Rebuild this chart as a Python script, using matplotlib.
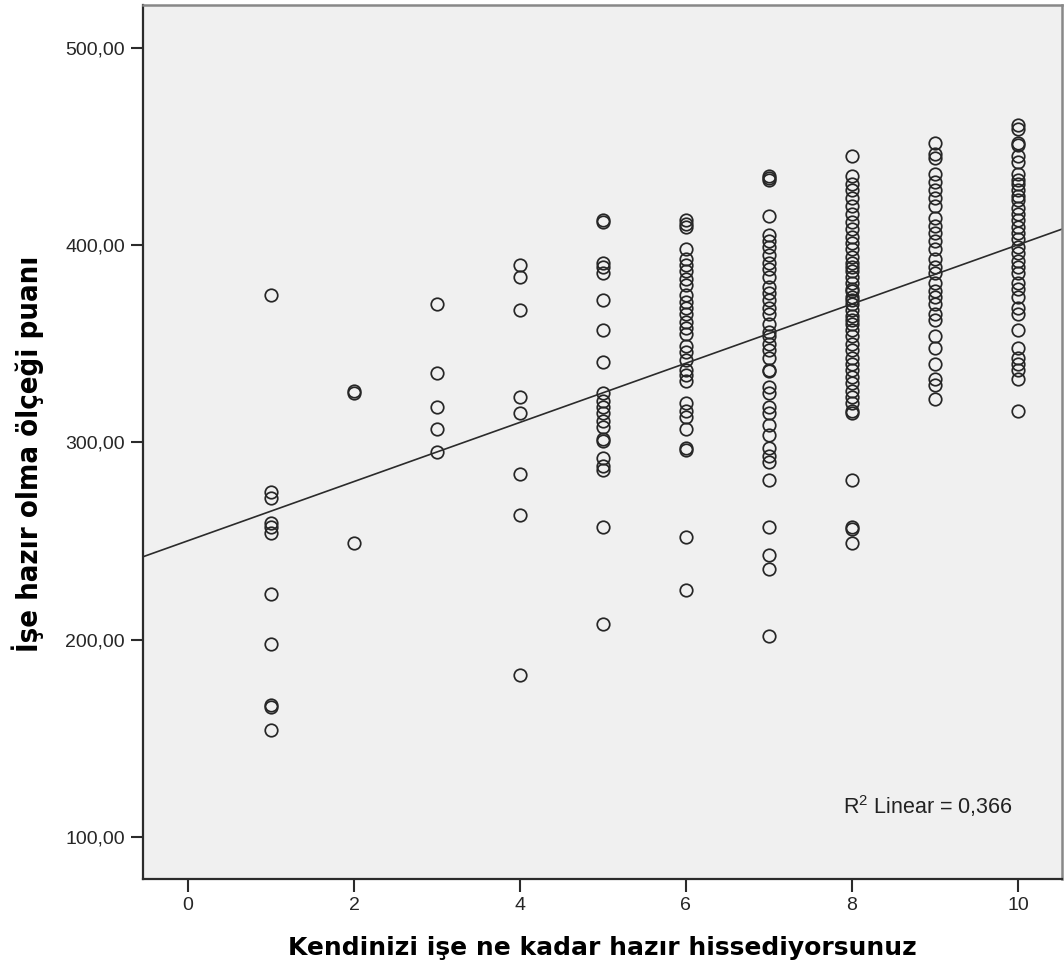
import matplotlib
matplotlib.use('Agg')
import matplotlib.pyplot as plt
import numpy as np

# scores, one list per answer (1..10)
score1 = [375, 275, 272, 259, 257, 254, 223, 198, 167, 166, 154]
score2 = [326, 325, 249]
score3 = [370, 335, 318, 307, 295]
score4 = [390, 384, 367, 323, 315, 284, 263, 182]
score5 = [413, 412, 391, 389, 386, 372, 357, 341, 325, 321, 318, 315, 311, 308,
          302, 301, 292, 288, 286, 257, 208]
score6 = [413, 411, 409, 398, 393, 390, 387, 383, 380, 375, 371, 368, 365, 361,
          358, 355, 349, 346, 342, 337, 334, 331, 320, 316, 313, 307, 297, 296,
          252, 225]
score7 = [435, 434, 433, 415, 405, 402, 399, 395, 391, 388, 384, 379, 376, 372,
          368, 365, 360, 356, 354, 350, 347, 343, 337, 336, 328, 325, 318, 315,
          309, 304, 297, 293, 290, 281, 257, 243, 236, 202]
score8 = [445, 435, 431, 428, 424, 420, 416, 412, 408, 404, 401, 398, 394, 391,
          389, 387, 384, 381, 378, 377, 374, 372, 370, 367, 364, 362, 360, 357,
          354, 350, 347, 343, 340, 337, 333, 330, 326, 323, 320, 316, 315, 281,
          257, 256, 249]
score9 = [452, 446, 444, 436, 432, 428, 424, 420, 414, 410, 406, 402, 398, 393,
          389, 386, 381, 377, 374, 370, 365, 362, 354, 348, 340, 332, 329, 322]
score10 = [461, 459, 452, 451, 445, 442, 436, 433, 431, 428, 425, 423, 419, 416,
           413, 409, 406, 403, 399, 396, 392, 389, 386, 381, 378, 374, 368, 365,
           357, 348, 343, 340, 337, 332, 316]

answers = [1, 2, 3, 4, 5, 6, 7, 8, 9, 10]
scores = [score1, score2, score3, score4, score5, score6, score7, score8, score9, score10]

# fit line as drawn by SPSS
intercept = 250.2
slope = 15.0
r2_label = 'R$^2$ Linear = 0,366'

xticks = [0, 2, 4, 6, 8, 10]
yticks = [100, 200, 300, 400, 500]
ytick_labels = ['100,00', '200,00', '300,00', '400,00', '500,00']

plt.rcParams['font.family'] = ['Liberation Sans', 'DejaVu Sans']
plt.rcParams['mathtext.default'] = 'regular'

fig = plt.figure(figsize=(10.64, 9.74), dpi=100)
ax = fig.add_axes([0.1344, 0.0975, 0.8636, 0.8974])
ax.set_facecolor('#f0f0f0')

x = []
y = []
for a, s in zip(answers, scores):
  x += [a] * len(s)
  y += s

ax.plot(x, y, linestyle='none', marker='o', markersize=9, markerfacecolor='none',
        markeredgecolor='#262626', markeredgewidth=1.25)

xmin, xmax = -0.542, 10.53
xl = np.array([xmin, xmax])
ax.plot(xl, intercept + slope * xl, color='#2b2b2b', linewidth=1.2)

ax.set_xlim(xmin, xmax)
ax.set_ylim(78.7, 521.8)

ax.set_xticks(xticks)
ax.set_yticks(yticks)
ax.set_yticklabels(ytick_labels)
ax.tick_params(direction='out', length=9, width=1.5, color='#2b2b2b',
               labelsize=14, labelcolor='#262626', pad=4)

for side in ['left', 'bottom']:
  ax.spines[side].set_color('#2b2b2b')
  ax.spines[side].set_linewidth(1.6)
for side in ['top', 'right']:
  ax.spines[side].set_color('#888888')
  ax.spines[side].set_linewidth(1.8)

ax.text(7.89, 115.7, r2_label, fontsize=15.5, color='#222222', ha='left', va='center')

ax.set_xlabel('Kendinizi işe ne kadar hazır hissediyorsunuz', family='DejaVu Sans',
              fontsize=18, fontweight='bold', labelpad=16)
ax.set_ylabel('İşe hazır olma ölçeği puanı', family='DejaVu Sans', fontsize=21,
              fontweight='bold', fontstretch='condensed')
ax.yaxis.set_label_coords(-0.108, 0.487)

fig.savefig('out.png', dpi=100)
